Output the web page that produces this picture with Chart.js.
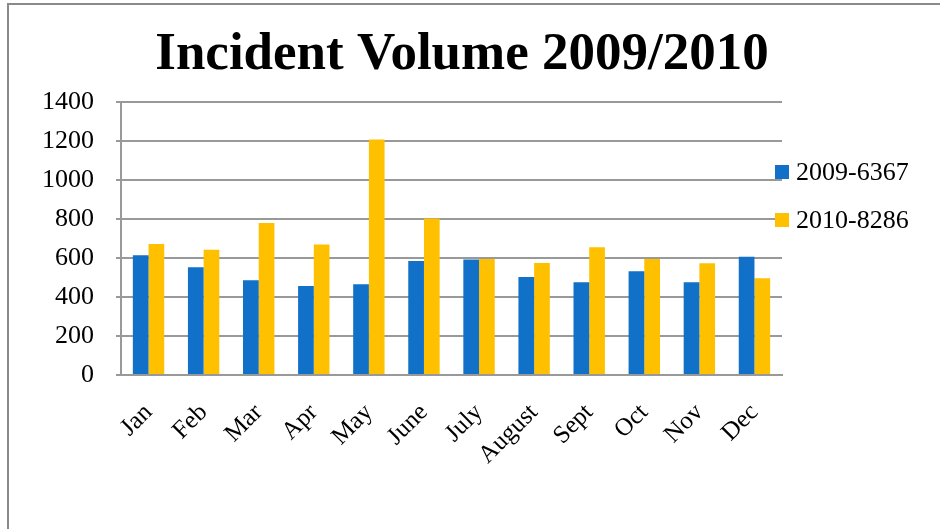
<!DOCTYPE html>
<html>
<head>
<meta charset="utf-8">
<script src="https://cdn.jsdelivr.net/npm/chart.js@4/dist/chart.umd.min.js"></script>
<style>
  html, body { margin: 0; padding: 0; background: #fff; }
  #wrap { position: relative; width: 940px; height: 529px; }
  #frame { position: absolute; left: 7px; top: 3px; right: 0; bottom: 0;
           border-left: 2px solid #8a8a8a; border-top: 2px solid #8a8a8a; }
  canvas { position: absolute; left: 0; top: 0; }
</style>
</head>
<body>
<div id="wrap">
  <div id="frame"></div>
  <canvas id="incidentChart" width="940" height="529"></canvas>
</div>
<script>
const months = ['Jan', 'Feb', 'Mar', 'Apr', 'May', 'June', 'July', 'August', 'Sept', 'Oct', 'Nov', 'Dec'];
const seriesNames = ['2009-6367', '2010-8286'];
const vol2009 = [614, 553, 486, 457, 465, 585, 592, 503, 476, 532, 476, 606];
const vol2010 = [672, 642, 780, 669, 1208, 802, 595, 575, 655, 595, 573, 496];
const yTicks = [0, 200, 400, 600, 800, 1000, 1200, 1400];
const chartTitle = 'Incident Volume 2009/2010';

const colors = ['#1170c8', '#ffc000'];
const serif = "'Liberation Serif', 'DejaVu Serif', serif";

// title centred over the whole box (plot + legend), legend next to the plot
const titleAndLegend = {
    id: 'titleAndLegend',
    afterDraw(chart) {
        const ctx = chart.ctx;
        const area = chart.chartArea;
        ctx.save();
        ctx.fillStyle = '#000';
        ctx.textAlign = 'center';
        ctx.textBaseline = 'alphabetic';
        ctx.font = 'bold 53px ' + serif;
        ctx.fillText(chartTitle, chart.width / 2 - 8, area.top - 33);

        ctx.textAlign = 'left';
        ctx.textBaseline = 'middle';
        ctx.font = '26px ' + serif;
        chart.data.datasets.forEach((ds, i) => {
            const y = area.top + 70 + i * 48;
            ctx.fillStyle = ds.backgroundColor;
            ctx.fillRect(area.right - 7, y - 7, 14, 14);
            ctx.fillStyle = '#000';
            ctx.fillText(ds.label, area.right + 14, y + 1);
        });
        ctx.restore();
    }
};

new Chart(document.getElementById('incidentChart'), {
    type: 'bar',
    data: {
        labels: months,
        datasets: [
            { label: seriesNames[0], data: vol2009, backgroundColor: colors[0] },
            { label: seriesNames[1], data: vol2010, backgroundColor: colors[1] }
        ]
    },
    options: {
        responsive: false,
        animation: false,
        layout: { padding: { left: 0, right: 158, top: 102, bottom: 0 } },
        datasets: { bar: { barPercentage: 1.0, categoryPercentage: 0.57, borderWidth: 0 } },
        plugins: {
            legend: { display: false },
            tooltip: { enabled: false },
            title: { display: false }
        },
        scales: {
            x: {
                grid: { display: false },
                border: { display: true, color: '#999', width: 2 },
                ticks: {
                    color: '#000',
                    font: { family: serif, size: 25 },
                    minRotation: 45,
                    maxRotation: 45,
                    padding: 15
                },
                afterFit(scale) { scale.height = 154; }
            },
            y: {
                min: 0,
                max: 1400,
                afterBuildTicks(scale) { scale.ticks = yTicks.map(v => ({ value: v })); },
                grid: { color: '#999', lineWidth: 2, tickLength: 5 },
                border: { display: true, color: '#999', width: 2 },
                ticks: {
                    color: '#000',
                    font: { family: serif, size: 26 },
                    padding: 22,
                    callback: v => String(v)
                },
                afterFit(scale) { scale.width = 121; }
            }
        }
    },
    plugins: [titleAndLegend]
});
</script>
</body>
</html>
